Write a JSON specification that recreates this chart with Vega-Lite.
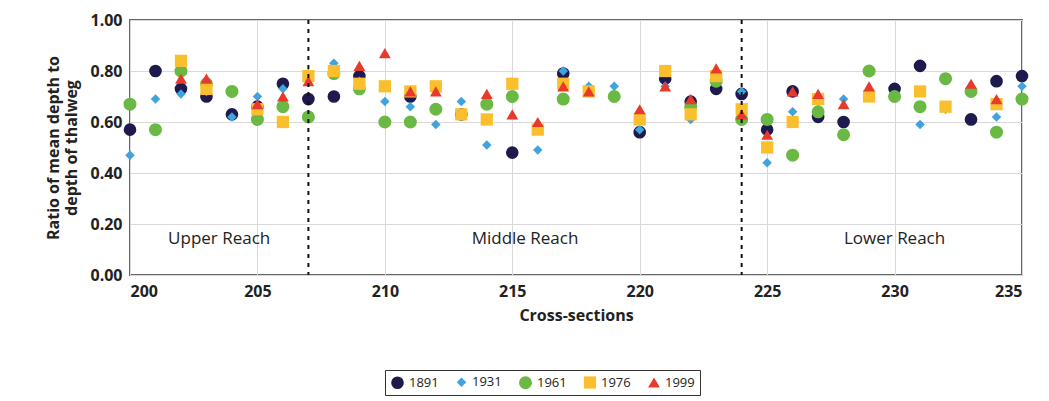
{
  "$schema": "https://vega.github.io/schema/vega-lite/v6.json",
  "width": 892,
  "height": 255,
  "autosize": "none",
  "padding": {"left": 130, "top": 20, "right": 27, "bottom": 126},
  "config": {
    "view": {"stroke": "#666", "strokeWidth": 2},
    "font": "Open Sans",
    "axis": {"gridColor": "#d9d9d9", "domain": false, "ticks": false, "labelFontSize": 16, "labelFontWeight": "bold", "labelColor": "#222", "titleFontSize": 16, "titleFontWeight": "bold", "titleColor": "#222"}
  },
  "datasets": {
    "pts": [
      {"x":200,"y":0.57,"year":"1891"},{"x":200,"y":0.47,"year":"1931"},{"x":200,"y":0.67,"year":"1961"},
      {"x":201,"y":0.80,"year":"1891"},{"x":201,"y":0.69,"year":"1931"},{"x":201,"y":0.57,"year":"1961"},
      {"x":202,"y":0.73,"year":"1891"},{"x":202,"y":0.71,"year":"1931"},{"x":202,"y":0.80,"year":"1961"},{"x":202,"y":0.84,"year":"1976"},{"x":202,"y":0.77,"year":"1999"},
      {"x":203,"y":0.70,"year":"1891"},{"x":203,"y":0.72,"year":"1931"},{"x":203,"y":0.75,"year":"1961"},{"x":203,"y":0.73,"year":"1976"},{"x":203,"y":0.77,"year":"1999"},
      {"x":204,"y":0.63,"year":"1891"},{"x":204,"y":0.62,"year":"1931"},{"x":204,"y":0.72,"year":"1961"},
      {"x":205,"y":0.66,"year":"1891"},{"x":205,"y":0.70,"year":"1931"},{"x":205,"y":0.61,"year":"1961"},{"x":205,"y":0.65,"year":"1976"},{"x":205,"y":0.67,"year":"1999"},
      {"x":206,"y":0.75,"year":"1891"},{"x":206,"y":0.73,"year":"1931"},{"x":206,"y":0.66,"year":"1961"},{"x":206,"y":0.60,"year":"1976"},{"x":206,"y":0.70,"year":"1999"},
      {"x":207,"y":0.69,"year":"1891"},{"x":207,"y":0.79,"year":"1931"},{"x":207,"y":0.62,"year":"1961"},{"x":207,"y":0.78,"year":"1976"},{"x":207,"y":0.76,"year":"1999"},
      {"x":208,"y":0.70,"year":"1891"},{"x":208,"y":0.83,"year":"1931"},{"x":208,"y":0.79,"year":"1961"},{"x":208,"y":0.80,"year":"1976"},
      {"x":209,"y":0.78,"year":"1891"},{"x":209,"y":0.76,"year":"1931"},{"x":209,"y":0.73,"year":"1961"},{"x":209,"y":0.75,"year":"1976"},{"x":209,"y":0.82,"year":"1999"},
      {"x":210,"y":0.68,"year":"1931"},{"x":210,"y":0.60,"year":"1961"},{"x":210,"y":0.74,"year":"1976"},{"x":210,"y":0.87,"year":"1999"},
      {"x":211,"y":0.70,"year":"1891"},{"x":211,"y":0.66,"year":"1931"},{"x":211,"y":0.60,"year":"1961"},{"x":211,"y":0.72,"year":"1976"},{"x":211,"y":0.72,"year":"1999"},
      {"x":212,"y":0.59,"year":"1931"},{"x":212,"y":0.65,"year":"1961"},{"x":212,"y":0.74,"year":"1976"},{"x":212,"y":0.72,"year":"1999"},
      {"x":213,"y":0.63,"year":"1891"},{"x":213,"y":0.68,"year":"1931"},{"x":213,"y":0.63,"year":"1976"},
      {"x":214,"y":0.51,"year":"1931"},{"x":214,"y":0.67,"year":"1961"},{"x":214,"y":0.61,"year":"1976"},{"x":214,"y":0.71,"year":"1999"},
      {"x":215,"y":0.48,"year":"1891"},{"x":215,"y":0.70,"year":"1961"},{"x":215,"y":0.75,"year":"1976"},{"x":215,"y":0.63,"year":"1999"},
      {"x":216,"y":0.49,"year":"1931"},{"x":216,"y":0.57,"year":"1976"},{"x":216,"y":0.60,"year":"1999"},
      {"x":217,"y":0.79,"year":"1891"},{"x":217,"y":0.80,"year":"1931"},{"x":217,"y":0.69,"year":"1961"},{"x":217,"y":0.75,"year":"1976"},{"x":217,"y":0.74,"year":"1999"},
      {"x":218,"y":0.74,"year":"1931"},{"x":218,"y":0.72,"year":"1976"},{"x":218,"y":0.72,"year":"1999"},
      {"x":219,"y":0.74,"year":"1931"},{"x":219,"y":0.70,"year":"1961"},
      {"x":220,"y":0.56,"year":"1891"},{"x":220,"y":0.57,"year":"1931"},{"x":220,"y":0.61,"year":"1976"},{"x":220,"y":0.65,"year":"1999"},
      {"x":221,"y":0.77,"year":"1891"},{"x":221,"y":0.74,"year":"1931"},{"x":221,"y":0.80,"year":"1976"},{"x":221,"y":0.74,"year":"1999"},
      {"x":222,"y":0.68,"year":"1891"},{"x":222,"y":0.61,"year":"1931"},{"x":222,"y":0.66,"year":"1961"},{"x":222,"y":0.63,"year":"1976"},{"x":222,"y":0.69,"year":"1999"},
      {"x":223,"y":0.73,"year":"1891"},{"x":223,"y":0.76,"year":"1961"},{"x":223,"y":0.78,"year":"1976"},{"x":223,"y":0.81,"year":"1999"},
      {"x":224,"y":0.71,"year":"1891"},{"x":224,"y":0.72,"year":"1931"},{"x":224,"y":0.61,"year":"1961"},{"x":224,"y":0.65,"year":"1976"},{"x":224,"y":0.63,"year":"1999"},
      {"x":225,"y":0.57,"year":"1891"},{"x":225,"y":0.44,"year":"1931"},{"x":225,"y":0.61,"year":"1961"},{"x":225,"y":0.50,"year":"1976"},{"x":225,"y":0.55,"year":"1999"},
      {"x":226,"y":0.72,"year":"1891"},{"x":226,"y":0.64,"year":"1931"},{"x":226,"y":0.47,"year":"1961"},{"x":226,"y":0.60,"year":"1976"},{"x":226,"y":0.72,"year":"1999"},
      {"x":227,"y":0.62,"year":"1891"},{"x":227,"y":0.65,"year":"1931"},{"x":227,"y":0.64,"year":"1961"},{"x":227,"y":0.69,"year":"1976"},{"x":227,"y":0.71,"year":"1999"},
      {"x":228,"y":0.60,"year":"1891"},{"x":228,"y":0.69,"year":"1931"},{"x":228,"y":0.55,"year":"1961"},{"x":228,"y":0.67,"year":"1999"},
      {"x":229,"y":0.80,"year":"1961"},{"x":229,"y":0.70,"year":"1976"},{"x":229,"y":0.74,"year":"1999"},
      {"x":230,"y":0.73,"year":"1891"},{"x":230,"y":0.70,"year":"1961"},
      {"x":231,"y":0.82,"year":"1891"},{"x":231,"y":0.59,"year":"1931"},{"x":231,"y":0.66,"year":"1961"},{"x":231,"y":0.72,"year":"1976"},
      {"x":232,"y":0.65,"year":"1931"},{"x":232,"y":0.77,"year":"1961"},{"x":232,"y":0.66,"year":"1976"},
      {"x":233,"y":0.61,"year":"1891"},{"x":233,"y":0.72,"year":"1961"},{"x":233,"y":0.75,"year":"1999"},
      {"x":234,"y":0.76,"year":"1891"},{"x":234,"y":0.62,"year":"1931"},{"x":234,"y":0.56,"year":"1961"},{"x":234,"y":0.67,"year":"1976"},{"x":234,"y":0.69,"year":"1999"},
      {"x":235,"y":0.78,"year":"1891"},{"x":235,"y":0.74,"year":"1931"},{"x":235,"y":0.69,"year":"1961"}
    ],
    "bounds": [{"x": 207}, {"x": 224}],
    "reaches": [
      {"x": 203.5, "y": 0.14, "label": "Upper Reach"},
      {"x": 215.5, "y": 0.14, "label": "Middle Reach"},
      {"x": 230, "y": 0.14, "label": "Lower Reach"}
    ]
  },
  "layer": [
    {
      "data": {"name": "pts"},
      "mark": {"type": "point", "filled": true, "opacity": 1},
      "encoding": {
        "x": {"field": "x", "type": "quantitative", "scale": {"domain": [200, 235], "nice": false}, "axis": {"values": [200, 205, 210, 215, 220, 225, 230, 235], "title": "Cross-sections", "labelPadding": 8, "titlePadding": 8}},
        "y": {"field": "y", "type": "quantitative", "scale": {"domain": [0, 1]}, "axis": {"values": [0, 0.2, 0.4, 0.6, 0.8, 1], "format": ".2f", "title": ["Ratio of mean depth to", "depth of thalweg"], "labelPadding": 8, "titlePadding": 10}},
        "color": {"field": "year", "type": "nominal", "scale": {"domain": ["1891", "1931", "1961", "1976", "1999"], "range": ["#1f1a4d", "#3fa3dd", "#6ab944", "#fbbf2e", "#e8392b"]},
          "legend": {"title": null, "orient": "none", "direction": "horizontal", "legendX": 255, "legendY": 350, "labelFontSize": 13, "labelColor": "#222", "strokeColor": "#333", "padding": 5, "columnPadding": 16}},
        "shape": {"field": "year", "type": "nominal", "scale": {"domain": ["1891", "1931", "1961", "1976", "1999"], "range": ["circle", "diamond", "circle", "square", "triangle-up"]}},
        "size": {"field": "year", "type": "ordinal", "scale": {"type": "ordinal", "domain": ["1891", "1931", "1961", "1976", "1999"], "range": [160, 90, 170, 150, 140]}, "legend": null}
      }
    },
    {
      "data": {"name": "bounds"},
      "mark": {"type": "rule", "strokeDash": [4, 5], "strokeWidth": 2, "color": "#111"},
      "encoding": {"x": {"field": "x", "type": "quantitative"}}
    },
    {
      "data": {"name": "reaches"},
      "mark": {"type": "text", "fontSize": 17, "color": "#222"},
      "encoding": {
        "x": {"field": "x", "type": "quantitative"},
        "y": {"field": "y", "type": "quantitative"},
        "text": {"field": "label"}
      }
    }
  ]
}
